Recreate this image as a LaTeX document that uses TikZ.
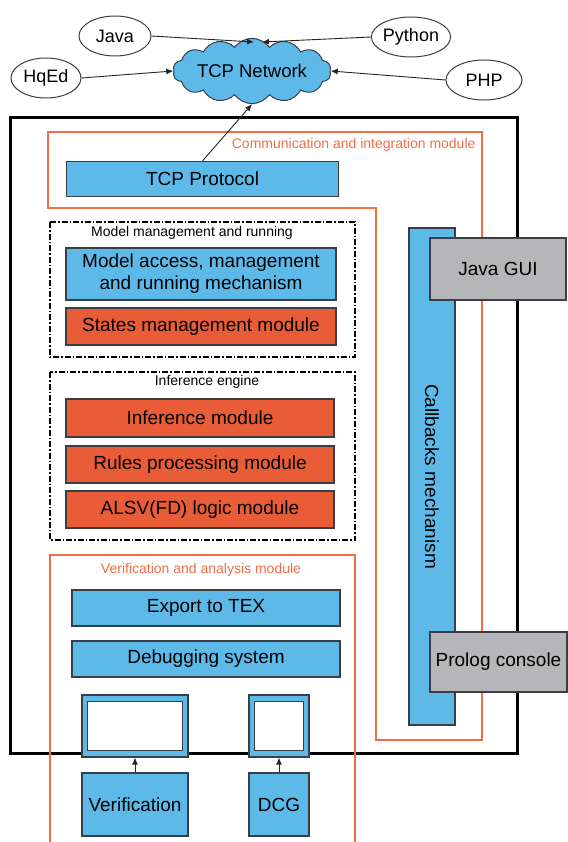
\documentclass[tikz,border=0pt]{standalone}
\usepackage{fontspec}
\setmainfont{Liberation Sans}
\usetikzlibrary{shapes.symbols,shapes.geometric,arrows.meta}
\definecolor{boxblue}{RGB}{92,185,232}
\definecolor{boxred}{RGB}{232,92,56}
\definecolor{frameorange}{RGB}{240,110,70}
\definecolor{guigrey}{RGB}{182,182,184}
\definecolor{edgegrey}{RGB}{60,62,70}
\begin{document}
\begin{tikzpicture}[x=1pt,y=-1pt,
  txt/.style={font=\fontsize{19}{22}\selectfont},
  small/.style={font=\fontsize{14}{16}\selectfont},
  bluebox/.style={draw=edgegrey, line width=1.2pt, fill=boxblue, inner sep=0pt, txt, align=center},
  redbox/.style={draw=edgegrey, line width=1.2pt, fill=boxred, inner sep=0pt, txt, align=center},
  greybox/.style={draw=edgegrey, line width=1.2pt, fill=guigrey, inner sep=0pt, txt},
  lang/.style={draw=edgegrey, line width=1pt, ellipse, fill=white, inner sep=0pt, font=\fontsize{18}{21}\selectfont},
  frame/.style={draw=frameorange, line width=2pt},
  dashframe/.style={draw=black, line width=1.4pt, dash pattern=on 6pt off 2pt on 1.5pt off 2pt},
  link/.style={draw=black!85, line width=0.9pt, -{Latex[length=7pt,width=6pt]}}
]
\useasboundingbox (0,0) rectangle (567,842);
\fill[white] (0,0) rectangle (567,842);

% outer system boundary
\draw[line width=3pt] (10,118) rectangle (517,753);

% communication and integration module (L-shaped frame)
\draw[frame] (48,132) -- (482,132) -- (482,740) -- (376,740) -- (376,208) -- (48,208) -- cycle;
\node[small, text=frameorange, anchor=east] (commlbl) at (479,145) {Communication and integration module};

% model management group
\draw[dashframe] (50,222) rectangle (355,357);
\node[small] (mmlbl) at (192,233) {Model management and running};

% inference engine group
\draw[dashframe] (50,372) rectangle (355,540);
\node[small] (ielbl) at (207,382) {Inference engine};

% verification and analysis module (open at the bottom)
\draw[frame] (50,845) -- (50,555) -- (355,555) -- (355,845);
\node[small, text=frameorange] (valbl) at (201,570) {Verification and analysis module};

% module boxes
\node[bluebox, minimum width=272, minimum height=35] (tcp) at (202.5,179) {TCP Protocol};
\node[bluebox, minimum width=270, minimum height=52] (mam) at (201,274) {Model access, management\\ and running mechanism};
\node[redbox, minimum width=270, minimum height=37] (states) at (201,326.5) {States management module};
\node[redbox, minimum width=268, minimum height=38] (inf) at (200,418) {Inference module};
\node[redbox, minimum width=268, minimum height=37] (rules) at (200,464.5) {Rules processing module};
\node[redbox, minimum width=268, minimum height=37] (alsv) at (200,509.5) {ALSV(FD) logic module};
\node[bluebox, minimum width=268, minimum height=36] (export) at (206,608) {Export to TEX};
\node[bluebox, minimum width=268, minimum height=36] (debug) at (206,659) {Debugging system};

% callbacks bar and external consoles
\node[bluebox, minimum width=46, minimum height=497] (cb) at (432,476.5) {};
\node[txt, rotate=-90] (cblbl) at (cb.center) {Callbacks mechanism};
\node[greybox, minimum width=136, minimum height=62] (gui) at (498,269) {Java GUI};
\node[greybox, minimum width=137, minimum height=60] (prolog) at (498.5,662) {Prolog console};

% plug-in slots
\node[bluebox, minimum width=106, minimum height=62] (slotv) at (135,726) {};
\node[draw=edgegrey, line width=1.2pt, fill=white, minimum width=95, minimum height=49, inner sep=0pt] (slotvin) at (slotv.center) {};
\node[bluebox, minimum width=60, minimum height=62] (slotd) at (279,726) {};
\node[draw=edgegrey, line width=1.2pt, fill=white, minimum width=49, minimum height=49, inner sep=0pt] (slotdin) at (slotd.center) {};

% plug-ins
\node[bluebox, minimum width=106, minimum height=63] (verif) at (135,804.5) {Verification};
\node[bluebox, minimum width=60, minimum height=63] (dcg) at (279,804.5) {DCG};
\draw[link] (verif.north) -- (slotv.south);
\draw[link] (dcg.north) -- (slotd.south);

% network and clients
\node[cloud, cloud puffs=14, cloud puff arc=110, aspect=3.2, draw=edgegrey, line width=1pt, fill=boxblue,
      minimum width=158, minimum height=48, inner sep=0pt, font=\fontsize{18.5}{21}\selectfont] (net) at (252,71) {TCP Network};
\node[lang, minimum width=72, minimum height=40] (java) at (115,36) {Java};
\node[lang, minimum width=76, minimum height=40] (python) at (411,37) {Python};
\node[lang, minimum width=70, minimum height=40] (hqed) at (46,78) {HqEd};
\node[lang, minimum width=76, minimum height=40] (php) at (484,80) {PHP};
\coordinate (netjava) at (254,42);
\coordinate (netpython) at (262,42);
\draw[link] (java.east) -- (netjava);
\draw[link] (python.west) -- (netpython);
\draw[link] (hqed.east) -- (net.west);
\draw[link] (php.west) -- (net.east);
\draw[link] (tcp.north) -- (net.south);
\end{tikzpicture}
\end{document}
